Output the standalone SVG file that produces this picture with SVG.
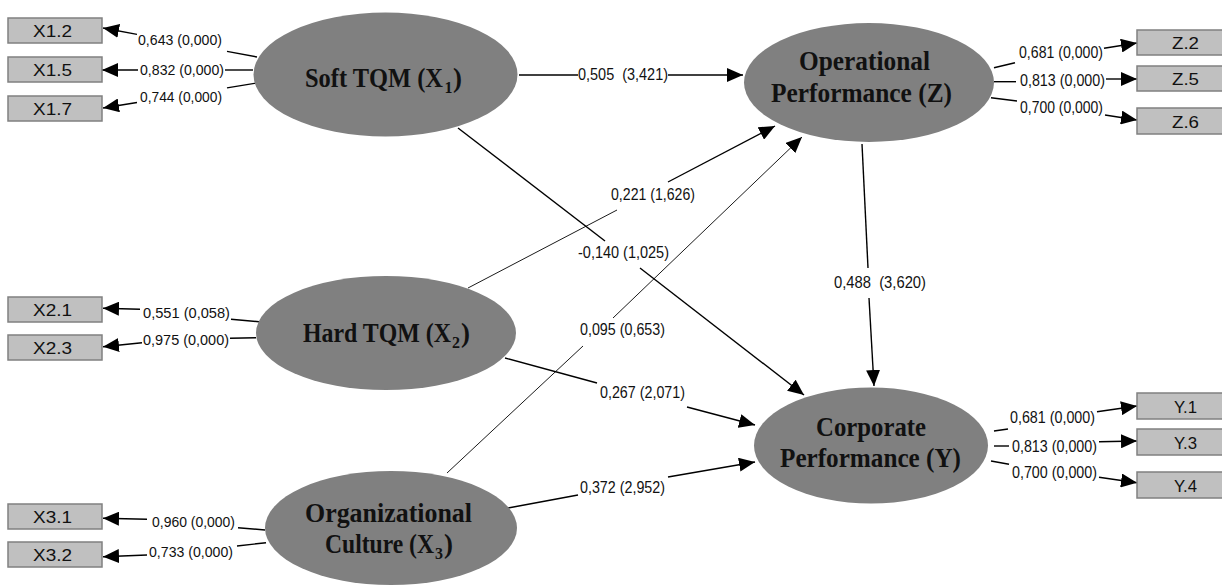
<svg xmlns="http://www.w3.org/2000/svg" width="1222" height="587" viewBox="0 0 1222 587">
<style>
.lat{fill:#808080;stroke:none}
.ind{fill:#c0c0c0;stroke:#808080;stroke-width:1.5}
.it{font-family:"Liberation Sans Narrow","Liberation Sans",Arial,sans-serif;font-size:17px;fill:#111;text-anchor:start}
.lt{font-family:"Liberation Serif","Times New Roman",serif;font-weight:bold;font-size:28px;fill:#111}
.sub{font-family:"Liberation Serif","Times New Roman",serif;font-weight:bold;font-size:16px;fill:#111}
.lb{font-family:"Liberation Sans Narrow","Liberation Sans",Arial,sans-serif;font-size:14px;fill:#111}
.lb2{font-family:"Liberation Sans Narrow","Liberation Sans",Arial,sans-serif;font-size:16.5px;fill:#111}
.c{stroke:#000;stroke-width:1.4;fill:none}
.thin{stroke-width:0.9}
</style>
<defs>
<marker id="ah" markerUnits="userSpaceOnUse" markerWidth="16" markerHeight="14" refX="16" refY="7" orient="auto" viewBox="0 0 16 14">
<path d="M0,0 L16,7 L0,14 z" fill="#000"/>
</marker>
</defs>

<g id="connectors">
<path class="c" d="M257,57 L227,51.4"/>
<path class="c" d="M137,34.4 L103,28" marker-end="url(#ah)"/>
<path class="c" d="M253,70 L225,70"/>
<path class="c" d="M138,70 L102,70" marker-end="url(#ah)"/>
<path class="c" d="M257,83 L227,87.9"/>
<path class="c" d="M137,102.5 L103,108" marker-end="url(#ah)"/>
<path class="c" d="M259,321.7 L231,319.3"/>
<path class="c" d="M140,309.3 L103,308.3" marker-end="url(#ah)"/>
<path class="c" d="M256,337.7 L230,338.3"/>
<path class="c" d="M142,342.7 L103,346.7" marker-end="url(#ah)"/>
<path class="c" d="M265,530 L238,527.7"/>
<path class="c" d="M147,519.3 L103,518.3" marker-end="url(#ah)"/>
<path class="c" d="M266,542.7 L237,546"/>
<path class="c" d="M147,555 L103,556.7" marker-end="url(#ah)"/>
<path class="c" d="M994,67.7 L1015,62.7"/>
<path class="c" d="M1104,48.3 L1137,43" marker-end="url(#ah)"/>
<path class="c" d="M994,81.7 L1016,81.7"/>
<path class="c" d="M1106,79 L1137,79" marker-end="url(#ah)"/>
<path class="c" d="M991,97.7 L1017,101"/>
<path class="c" d="M1105,115 L1137,120" marker-end="url(#ah)"/>
<path class="c" d="M994,431 L1008,429"/>
<path class="c" d="M1097,411.7 L1137,406" marker-end="url(#ah)"/>
<path class="c" d="M994,446 L1009,446"/>
<path class="c" d="M1099,441.7 L1137,441" marker-end="url(#ah)"/>
<path class="c" d="M991,461 L1009,464.3"/>
<path class="c" d="M1099,477.3 L1137,482.7" marker-end="url(#ah)"/>
<path class="c" d="M519,75 L578,75"/>
<path class="c" d="M668,75 L743,75" marker-end="url(#ah)"/>
<path class="c" d="M458,128 L605,241"/>
<path class="c" d="M640,268 L804,395" marker-end="url(#ah)"/>
<path class="c thin" d="M468,288 L617,210"/>
<path class="c" d="M668,182 L775,126" marker-end="url(#ah)"/>
<path class="c thin" d="M447,473 L583,346"/>
<path class="c thin" d="M613,318 L802,137" marker-end="url(#ah)"/>
<path class="c" d="M862,144 L868,268"/>
<path class="c" d="M869,298 L874,386" marker-end="url(#ah)"/>
<path class="c" d="M505,358 L597,383"/>
<path class="c" d="M687,407 L755,425" marker-end="url(#ah)"/>
<path class="c" d="M508,508 L578,495"/>
<path class="c" d="M668,477 L755,462" marker-end="url(#ah)"/>
</g>

<g id="labels">
<text class="lb" x="138" y="45" textLength="84" lengthAdjust="spacingAndGlyphs">0,643 (0,000)</text>
<text class="lb" x="140" y="75" textLength="84" lengthAdjust="spacingAndGlyphs">0,832 (0,000)</text>
<text class="lb" x="140" y="102" textLength="82" lengthAdjust="spacingAndGlyphs">0,744 (0,000)</text>
<text class="lb" x="143" y="318" textLength="87" lengthAdjust="spacingAndGlyphs">0,551 (0,058)</text>
<text class="lb" x="143" y="345" textLength="86" lengthAdjust="spacingAndGlyphs">0,975 (0,000)</text>
<text class="lb" x="152" y="527" textLength="83" lengthAdjust="spacingAndGlyphs">0,960 (0,000)</text>
<text class="lb" x="149" y="557" textLength="84" lengthAdjust="spacingAndGlyphs">0,733 (0,000)</text>
<text class="lb2" x="578" y="80" textLength="90" lengthAdjust="spacingAndGlyphs" xml:space="preserve">0,505  (3,421)</text>
<text class="lb2" x="611" y="200" textLength="84" lengthAdjust="spacingAndGlyphs">0,221 (1,626)</text>
<text class="lb2" x="578" y="258" textLength="91" lengthAdjust="spacingAndGlyphs">-0,140 (1,025)</text>
<text class="lb2" x="580" y="335" textLength="85" lengthAdjust="spacingAndGlyphs">0,095 (0,653)</text>
<text class="lb2" x="834" y="288" textLength="92" lengthAdjust="spacingAndGlyphs" xml:space="preserve">0,488  (3,620)</text>
<text class="lb2" x="600" y="398" textLength="85" lengthAdjust="spacingAndGlyphs">0,267 (2,071)</text>
<text class="lb2" x="580" y="493" textLength="85" lengthAdjust="spacingAndGlyphs">0,372 (2,952)</text>
<text class="lb2" x="1019" y="58" textLength="84" lengthAdjust="spacingAndGlyphs">0,681 (0,000)</text>
<text class="lb2" x="1020" y="86" textLength="85" lengthAdjust="spacingAndGlyphs">0,813 (0,000)</text>
<text class="lb2" x="1020" y="113" textLength="83" lengthAdjust="spacingAndGlyphs">0,700 (0,000)</text>
<text class="lb2" x="1010" y="423" textLength="85" lengthAdjust="spacingAndGlyphs">0,681 (0,000)</text>
<text class="lb2" x="1012" y="452" textLength="85" lengthAdjust="spacingAndGlyphs">0,813 (0,000)</text>
<text class="lb2" x="1012" y="478" textLength="85" lengthAdjust="spacingAndGlyphs">0,700 (0,000)</text>
</g>

<g id="soft-tqm">
<ellipse class="lat" cx="385.5" cy="74.5" rx="132" ry="62"/>
<text class="lt" x="305" y="87" textLength="138" lengthAdjust="spacingAndGlyphs">Soft TQM (X</text>
<text class="sub" x="444.5" y="93">1</text>
<text class="lt" x="453" y="87" textLength="9" lengthAdjust="spacingAndGlyphs">)</text>
</g>
<g id="hard-tqm">
<ellipse class="lat" cx="386" cy="333" rx="130" ry="57"/>
<text class="lt" x="303" y="342" textLength="148" lengthAdjust="spacingAndGlyphs">Hard TQM (X</text>
<text class="sub" x="452" y="348">2</text>
<text class="lt" x="461" y="342" textLength="9" lengthAdjust="spacingAndGlyphs">)</text>
</g>
<g id="org-culture">
<ellipse class="lat" cx="391" cy="528" rx="126" ry="57"/>
<text class="lt" x="305" y="522" textLength="167" lengthAdjust="spacingAndGlyphs">Organizational</text>
<text class="lt" x="325" y="553" textLength="109" lengthAdjust="spacingAndGlyphs">Culture (X</text>
<text class="sub" x="435" y="559">3</text>
<text class="lt" x="444" y="553" textLength="9" lengthAdjust="spacingAndGlyphs">)</text>
</g>
<g id="operational">
<ellipse class="lat" cx="869" cy="82.5" rx="125" ry="59.5"/>
<text class="lt" x="799" y="70" textLength="131" lengthAdjust="spacingAndGlyphs">Operational</text>
<text class="lt" x="771" y="102" textLength="181" lengthAdjust="spacingAndGlyphs">Performance (Z)</text>
</g>
<g id="corporate">
<ellipse class="lat" cx="871" cy="445.5" rx="117" ry="58"/>
<text class="lt" x="816" y="436" textLength="110" lengthAdjust="spacingAndGlyphs">Corporate</text>
<text class="lt" x="780" y="467" textLength="181" lengthAdjust="spacingAndGlyphs">Performance (Y)</text>
</g>

<g id="x1-2"><rect class="ind" x="8" y="18" width="94" height="25"/><text class="it" x="33" y="37" textLength="39" lengthAdjust="spacingAndGlyphs">X1.2</text></g>
<g id="x1-5"><rect class="ind" x="8" y="57" width="94" height="25"/><text class="it" x="33" y="76" textLength="39" lengthAdjust="spacingAndGlyphs">X1.5</text></g>
<g id="x1-7"><rect class="ind" x="8" y="96" width="94" height="25"/><text class="it" x="33" y="115" textLength="39" lengthAdjust="spacingAndGlyphs">X1.7</text></g>
<g id="x2-1"><rect class="ind" x="8" y="297" width="94" height="25"/><text class="it" x="33" y="316" textLength="39" lengthAdjust="spacingAndGlyphs">X2.1</text></g>
<g id="x2-3"><rect class="ind" x="8" y="335" width="94" height="25"/><text class="it" x="33" y="354" textLength="39" lengthAdjust="spacingAndGlyphs">X2.3</text></g>
<g id="x3-1"><rect class="ind" x="8" y="504" width="94" height="25"/><text class="it" x="33" y="523" textLength="39" lengthAdjust="spacingAndGlyphs">X3.1</text></g>
<g id="x3-2"><rect class="ind" x="8" y="542" width="94" height="25"/><text class="it" x="33" y="561" textLength="39" lengthAdjust="spacingAndGlyphs">X3.2</text></g>

<g id="z-2"><rect class="ind" x="1137" y="30" width="90" height="25"/><text class="it" x="1172" y="49" textLength="27" lengthAdjust="spacingAndGlyphs">Z.2</text></g>
<g id="z-5"><rect class="ind" x="1137" y="66" width="90" height="25"/><text class="it" x="1172" y="85" textLength="27" lengthAdjust="spacingAndGlyphs">Z.5</text></g>
<g id="z-6"><rect class="ind" x="1137" y="108" width="90" height="26"/><text class="it" x="1172" y="128" textLength="27" lengthAdjust="spacingAndGlyphs">Z.6</text></g>
<g id="y-1"><rect class="ind" x="1137" y="393" width="90" height="26"/><text class="it" x="1174" y="413" textLength="23" lengthAdjust="spacingAndGlyphs">Y.1</text></g>
<g id="y-3"><rect class="ind" x="1137" y="429" width="90" height="26"/><text class="it" x="1174" y="449" textLength="23" lengthAdjust="spacingAndGlyphs">Y.3</text></g>
<g id="y-4"><rect class="ind" x="1137" y="472" width="90" height="26"/><text class="it" x="1174" y="492" textLength="23" lengthAdjust="spacingAndGlyphs">Y.4</text></g>
</svg>
